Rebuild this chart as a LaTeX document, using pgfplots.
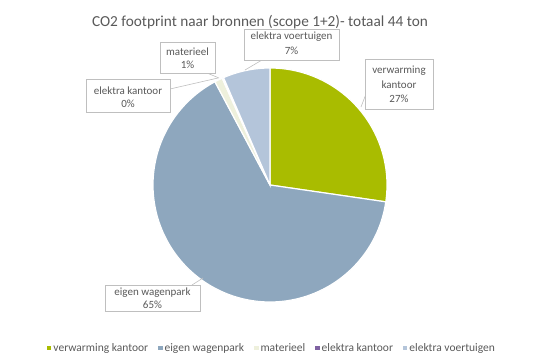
\documentclass[border=0pt]{standalone}
\usepackage{fontspec}
\setmainfont{Carlito}
\usepackage{pgfplots}
\pgfplotsset{compat=1.18}

\definecolor{cA}{HTML}{A9BC00}
\definecolor{cB}{HTML}{8EA7BE}
\definecolor{cC}{HTML}{EEF0DC}
\definecolor{cD}{HTML}{7F62A2}
\definecolor{cE}{HTML}{B4C5DA}
\definecolor{txt}{HTML}{595959}
\definecolor{boxc}{HTML}{BFBFBF}

% shares in percent (total 44 ton)
\def\vA{27.3} % verwarming kantoor
\def\vB{64.9} % eigen wagenpark
\def\vC{1.1}  % materieel
\def\vD{0.2}  % elektra kantoor
\def\vE{6.5}  % elektra voertuigen

\pgfmathsetmacro\aO{90}
\pgfmathsetmacro\aI{\aO-3.6*\vA}
\pgfmathsetmacro\aII{\aI-3.6*\vB}
\pgfmathsetmacro\aIII{\aII-3.6*\vC}
\pgfmathsetmacro\aIV{\aIII-3.6*\vD}
\pgfmathsetmacro\aV{\aIV-3.6*\vE}

\begin{document}
\begin{tikzpicture}
\begin{axis}[
  width=542pt, height=363pt, scale only axis,
  xmin=0, xmax=542, ymin=0, ymax=363, y dir=reverse,
  hide axis, clip=false,
  legend columns=5,
  legend style={at={(axis cs:272,348)}, anchor=center, draw=none, fill=none,
    font=\fontsize{11.5}{13}\selectfont, text=txt, inner sep=0pt,
    nodes={inner sep=2pt},
    /tikz/every even column/.append style={column sep=8pt}},
  legend image code/.code={\fill[#1,draw=none] (1pt,-2.2pt) rectangle (5.4pt,2.2pt);},
]
\path (axis cs:0,0) rectangle (axis cs:542,363);
\addplot[fill=cA, draw=white, line width=1.2pt, domain=\aI:\aO, samples=80]
  ({270+117*cos(x)},{185-117*sin(x)}) -- (axis cs:270,185) -- cycle;
\addplot[fill=cB, draw=white, line width=1.2pt, domain=\aII:\aI, samples=150]
  ({270+117*cos(x)},{185-117*sin(x)}) -- (axis cs:270,185) -- cycle;
\addplot[fill=cC, draw=white, line width=1.2pt, domain=\aIII:\aII, samples=5]
  ({270+117*cos(x)},{185-117*sin(x)}) -- (axis cs:270,185) -- cycle;
\addplot[fill=cD, draw=white, line width=1.2pt, domain=\aIV:\aIII, samples=3]
  ({270+117*cos(x)},{185-117*sin(x)}) -- (axis cs:270,185) -- cycle;
\addplot[fill=cE, draw=white, line width=1.2pt, domain=\aV:\aIV, samples=30]
  ({270+117*cos(x)},{185-117*sin(x)}) -- (axis cs:270,185) -- cycle;
\legend{verwarming kantoor, eigen wagenpark, materieel, elektra kantoor, elektra voertuigen}

% title
\node[font=\fontsize{15.3}{18}\selectfont, text=txt] at (axis cs:260,22)
  {CO2 footprint naar bronnen (scope 1+2)- totaal 44 ton};

% leader lines
\draw[boxc, line width=0.6pt] (axis cs:366,94) -- (axis cs:361,107);
\draw[boxc, line width=0.6pt] (axis cs:192,285) -- (axis cs:203,278);
\draw[boxc, line width=0.6pt] (axis cs:170,89) -- (axis cs:218,78);
\draw[boxc, line width=0.6pt] (axis cs:207,73) -- (axis cs:219,78);
\draw[boxc, line width=0.6pt] (axis cs:262,60) -- (axis cs:245,70);

% label boxes
\begin{scope}[font=\fontsize{11}{12}\selectfont, text=txt]
\draw[boxc, fill=white, line width=0.6pt] (axis cs:365,59) rectangle (axis cs:433,109);
\node at (axis cs:399,71) {verwarming};
\node at (axis cs:399,85) {kantoor};
\node at (axis cs:399,98.5) {27\%};
\draw[boxc, fill=white, line width=0.6pt] (axis cs:105,285) rectangle (axis cs:200,311);
\node at (axis cs:152.5,293) {eigen wagenpark};
\node at (axis cs:152.5,305) {65\%};
\draw[boxc, fill=white, line width=0.6pt] (axis cs:86,79) rectangle (axis cs:170,112);
\node at (axis cs:128,91) {elektra kantoor};
\node at (axis cs:128,104) {0\%};
\draw[boxc, fill=white, line width=0.6pt] (axis cs:160,42) rectangle (axis cs:215,73);
\node at (axis cs:187.5,52) {materieel};
\node at (axis cs:187.5,65) {1\%};
\draw[boxc, fill=white, line width=0.6pt] (axis cs:244,29) rectangle (axis cs:339,60);
\node at (axis cs:291.5,37) {elektra voertuigen};
\node at (axis cs:291.5,50.5) {7\%};
\end{scope}
\end{axis}
\end{tikzpicture}
\end{document}
